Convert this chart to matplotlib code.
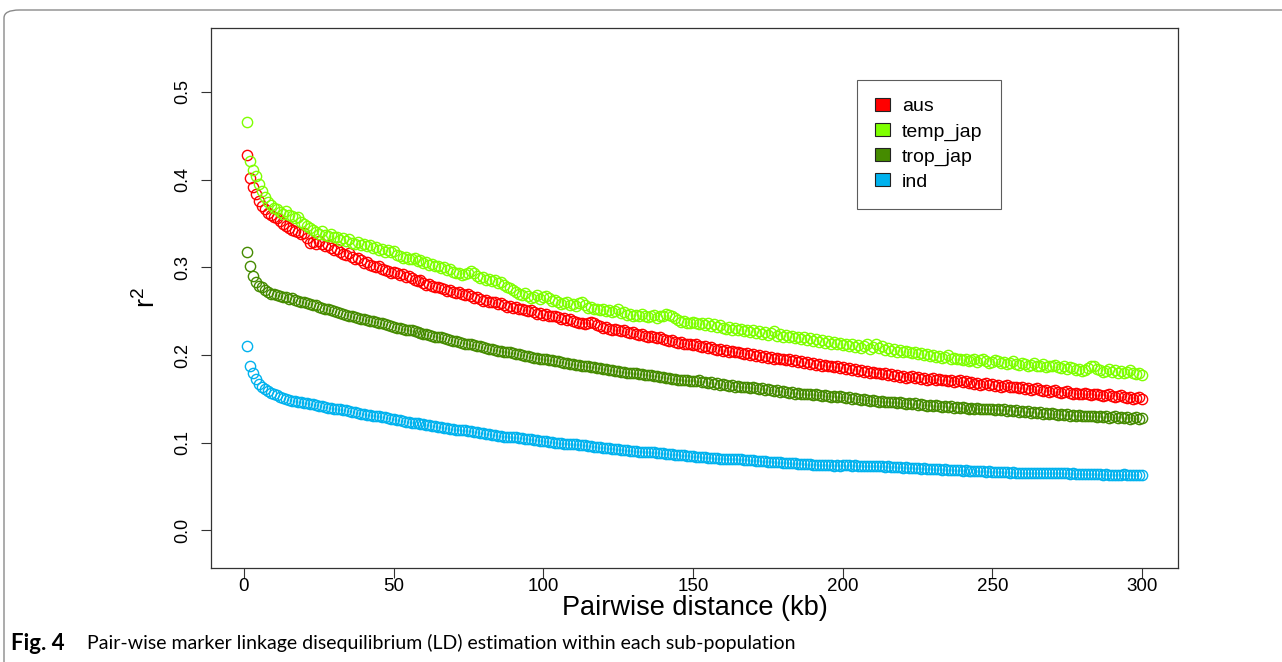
"""Pair-wise marker LD decay within each rice sub-population."""

import matplotlib.pyplot as plt
from matplotlib.patches import FancyBboxPatch, Patch

distance_kb = list(range(1, 301))

aus = [
    0.428, 0.402, 0.392, 0.383, 0.376, 0.370, 0.366, 0.362, 0.360, 0.357,
    0.356, 0.353, 0.349, 0.347, 0.345, 0.343, 0.341, 0.340, 0.338, 0.339,
    0.333, 0.328, 0.329, 0.327, 0.330, 0.326, 0.324, 0.325, 0.322, 0.320,
    0.321, 0.317, 0.315, 0.314, 0.316, 0.312, 0.310, 0.311, 0.308, 0.305,
    0.306, 0.303, 0.302, 0.300, 0.301, 0.298, 0.297, 0.296, 0.294, 0.295,
    0.293, 0.291, 0.292, 0.289, 0.290, 0.288, 0.286, 0.284, 0.285, 0.282,
    0.280, 0.281, 0.279, 0.277, 0.278, 0.276, 0.275, 0.273, 0.274, 0.272,
    0.271, 0.272, 0.270, 0.268, 0.269, 0.267, 0.265, 0.266, 0.264, 0.262,
    0.263, 0.261, 0.260, 0.261, 0.258, 0.259, 0.257, 0.255, 0.256, 0.254,
    0.255, 0.252, 0.253, 0.251, 0.250, 0.251, 0.249, 0.247, 0.248, 0.246,
    0.247, 0.245, 0.244, 0.245, 0.243, 0.241, 0.242, 0.240, 0.241, 0.239,
    0.238, 0.236, 0.237, 0.235, 0.237, 0.238, 0.236, 0.234, 0.233, 0.231,
    0.232, 0.230, 0.229, 0.230, 0.228, 0.227, 0.228, 0.226, 0.225, 0.226,
    0.224, 0.223, 0.224, 0.222, 0.221, 0.222, 0.220, 0.219, 0.220, 0.218,
    0.217, 0.216, 0.217, 0.215, 0.214, 0.215, 0.213, 0.212, 0.213, 0.211,
    0.212, 0.210, 0.209, 0.210, 0.208, 0.209, 0.207, 0.206, 0.207, 0.205,
    0.206, 0.204, 0.205, 0.203, 0.204, 0.202, 0.201, 0.202, 0.200, 0.201,
    0.199, 0.200, 0.198, 0.199, 0.197, 0.198, 0.196, 0.197, 0.195, 0.196,
    0.194, 0.195, 0.193, 0.194, 0.192, 0.193, 0.191, 0.192, 0.190, 0.191,
    0.189, 0.190, 0.188, 0.189, 0.187, 0.188, 0.186, 0.187, 0.185, 0.186,
    0.184, 0.185, 0.183, 0.184, 0.182, 0.183, 0.181, 0.182, 0.180, 0.181,
    0.179, 0.180, 0.178, 0.179, 0.177, 0.178, 0.176, 0.177, 0.175, 0.176,
    0.174, 0.175, 0.176, 0.174, 0.175, 0.173, 0.174, 0.172, 0.173, 0.174,
    0.172, 0.173, 0.171, 0.172, 0.170, 0.171, 0.169, 0.170, 0.171, 0.169,
    0.170, 0.168, 0.169, 0.167, 0.168, 0.166, 0.167, 0.168, 0.166, 0.167,
    0.165, 0.166, 0.164, 0.165, 0.166, 0.164, 0.163, 0.164, 0.162, 0.163,
    0.161, 0.162, 0.160, 0.161, 0.162, 0.160, 0.159, 0.160, 0.158, 0.159,
    0.160, 0.158, 0.157, 0.158, 0.159, 0.157, 0.156, 0.157, 0.155, 0.156,
    0.157, 0.155, 0.154, 0.155, 0.156, 0.154, 0.153, 0.154, 0.155, 0.153,
    0.152, 0.153, 0.154, 0.152, 0.151, 0.152, 0.150, 0.151, 0.152, 0.150,
]

temp_jap = [
    0.466, 0.421, 0.411, 0.404, 0.395, 0.387, 0.380, 0.374, 0.371, 0.368,
    0.366, 0.363, 0.361, 0.364, 0.360, 0.358, 0.356, 0.357, 0.352, 0.349,
    0.347, 0.345, 0.342, 0.340, 0.338, 0.341, 0.337, 0.336, 0.338, 0.335,
    0.334, 0.331, 0.333, 0.330, 0.332, 0.328, 0.326, 0.329, 0.325, 0.327,
    0.324, 0.325, 0.322, 0.323, 0.320, 0.321, 0.318, 0.320, 0.317, 0.319,
    0.314, 0.313, 0.311, 0.312, 0.309, 0.310, 0.311, 0.307, 0.308, 0.305,
    0.306, 0.303, 0.304, 0.301, 0.302, 0.299, 0.300, 0.297, 0.298, 0.295,
    0.293, 0.294, 0.291, 0.292, 0.294, 0.296, 0.293, 0.290, 0.288, 0.289,
    0.286, 0.287, 0.284, 0.285, 0.282, 0.283, 0.280, 0.278, 0.276, 0.274,
    0.272, 0.270, 0.268, 0.271, 0.267, 0.265, 0.266, 0.268, 0.264, 0.266,
    0.267, 0.265, 0.262, 0.263, 0.260, 0.258, 0.259, 0.261, 0.257, 0.258,
    0.256, 0.259, 0.260, 0.257, 0.254, 0.255, 0.252, 0.253, 0.251, 0.252,
    0.250, 0.251, 0.249, 0.250, 0.252, 0.248, 0.249, 0.246, 0.247, 0.245,
    0.246, 0.244, 0.247, 0.245, 0.243, 0.244, 0.246, 0.242, 0.244, 0.245,
    0.247, 0.246, 0.244, 0.242, 0.240, 0.238, 0.239, 0.237, 0.236, 0.238,
    0.236, 0.235, 0.237, 0.234, 0.236, 0.233, 0.235, 0.232, 0.234, 0.231,
    0.230, 0.232, 0.229, 0.231, 0.228, 0.230, 0.227, 0.229, 0.226, 0.228,
    0.225, 0.227, 0.224, 0.226, 0.223, 0.225, 0.227, 0.222, 0.224, 0.221,
    0.223, 0.220, 0.222, 0.219, 0.221, 0.218, 0.220, 0.217, 0.219, 0.216,
    0.218, 0.215, 0.217, 0.214, 0.216, 0.213, 0.215, 0.212, 0.214, 0.211,
    0.213, 0.210, 0.212, 0.209, 0.211, 0.208, 0.210, 0.212, 0.207, 0.209,
    0.213, 0.208, 0.210, 0.206, 0.208, 0.205, 0.207, 0.204, 0.206, 0.203,
    0.205, 0.204, 0.202, 0.203, 0.201, 0.202, 0.200, 0.201, 0.199, 0.200,
    0.198, 0.199, 0.197, 0.198, 0.200, 0.196, 0.197, 0.195, 0.196, 0.194,
    0.195, 0.193, 0.194, 0.196, 0.192, 0.194, 0.195, 0.193, 0.191, 0.192,
    0.194, 0.193, 0.191, 0.192, 0.190, 0.191, 0.193, 0.190, 0.189, 0.191,
    0.190, 0.188, 0.189, 0.191, 0.187, 0.188, 0.190, 0.186, 0.188, 0.187,
    0.189, 0.186, 0.185, 0.187, 0.184, 0.186, 0.185, 0.183, 0.184, 0.182,
    0.183, 0.185, 0.188, 0.187, 0.184, 0.183, 0.181, 0.182, 0.184, 0.181,
    0.183, 0.180, 0.182, 0.179, 0.181, 0.183, 0.180, 0.178, 0.179, 0.177,
]

trop_jap = [
    0.318, 0.301, 0.290, 0.283, 0.279, 0.277, 0.274, 0.272, 0.270, 0.269,
    0.268, 0.267, 0.266, 0.266, 0.264, 0.265, 0.263, 0.262, 0.261, 0.260,
    0.259, 0.258, 0.257, 0.257, 0.255, 0.254, 0.253, 0.252, 0.251, 0.250,
    0.249, 0.248, 0.247, 0.246, 0.245, 0.244, 0.243, 0.242, 0.241, 0.241,
    0.240, 0.239, 0.239, 0.238, 0.237, 0.236, 0.235, 0.234, 0.233, 0.232,
    0.231, 0.231, 0.230, 0.229, 0.228, 0.228, 0.227, 0.226, 0.225, 0.224,
    0.224, 0.223, 0.222, 0.221, 0.220, 0.220, 0.219, 0.218, 0.217, 0.216,
    0.216, 0.215, 0.214, 0.213, 0.213, 0.212, 0.211, 0.210, 0.210, 0.209,
    0.208, 0.207, 0.207, 0.206, 0.205, 0.205, 0.204, 0.203, 0.203, 0.202,
    0.201, 0.201, 0.200, 0.199, 0.199, 0.198, 0.197, 0.197, 0.196, 0.196,
    0.195, 0.194, 0.194, 0.193, 0.193, 0.192, 0.191, 0.191, 0.190, 0.190,
    0.189, 0.189, 0.188, 0.187, 0.187, 0.186, 0.186, 0.185, 0.185, 0.184,
    0.184, 0.183, 0.183, 0.182, 0.182, 0.181, 0.181, 0.180, 0.180, 0.179,
    0.179, 0.178, 0.178, 0.177, 0.177, 0.177, 0.176, 0.176, 0.175, 0.175,
    0.174, 0.174, 0.173, 0.173, 0.172, 0.172, 0.171, 0.171, 0.170, 0.170,
    0.170, 0.171, 0.169, 0.169, 0.168, 0.169, 0.167, 0.168, 0.166, 0.167,
    0.166, 0.165, 0.166, 0.164, 0.165, 0.163, 0.164, 0.163, 0.162, 0.163,
    0.162, 0.161, 0.162, 0.160, 0.161, 0.160, 0.159, 0.160, 0.158, 0.159,
    0.158, 0.157, 0.158, 0.156, 0.157, 0.156, 0.155, 0.156, 0.155, 0.154,
    0.155, 0.154, 0.153, 0.154, 0.153, 0.152, 0.153, 0.152, 0.153, 0.152,
    0.151, 0.152, 0.150, 0.151, 0.150, 0.149, 0.150, 0.149, 0.148, 0.149,
    0.148, 0.147, 0.148, 0.147, 0.146, 0.147, 0.146, 0.145, 0.146, 0.145,
    0.144, 0.145, 0.144, 0.145, 0.143, 0.144, 0.143, 0.142, 0.143, 0.142,
    0.143, 0.142, 0.141, 0.142, 0.141, 0.142, 0.140, 0.141, 0.140, 0.141,
    0.140, 0.139, 0.140, 0.139, 0.140, 0.138, 0.139, 0.138, 0.139, 0.138,
    0.137, 0.138, 0.137, 0.138, 0.136, 0.137, 0.136, 0.137, 0.135, 0.136,
    0.135, 0.136, 0.134, 0.135, 0.134, 0.135, 0.133, 0.134, 0.133, 0.134,
    0.133, 0.132, 0.133, 0.132, 0.133, 0.131, 0.132, 0.131, 0.132, 0.130,
    0.131, 0.130, 0.131, 0.130, 0.129, 0.130, 0.129, 0.130, 0.128, 0.129,
    0.130, 0.128, 0.129, 0.128, 0.129, 0.127, 0.128, 0.129, 0.127, 0.128,
]

ind = [
    0.210, 0.188, 0.179, 0.173, 0.167, 0.164, 0.161, 0.159, 0.157, 0.156,
    0.154, 0.152, 0.151, 0.150, 0.149, 0.148, 0.148, 0.147, 0.146, 0.145,
    0.145, 0.144, 0.144, 0.143, 0.142, 0.142, 0.141, 0.140, 0.140, 0.139,
    0.138, 0.138, 0.137, 0.137, 0.136, 0.135, 0.135, 0.134, 0.133, 0.133,
    0.132, 0.132, 0.131, 0.130, 0.130, 0.129, 0.129, 0.128, 0.127, 0.127,
    0.126, 0.126, 0.125, 0.124, 0.124, 0.123, 0.123, 0.122, 0.121, 0.121,
    0.120, 0.120, 0.119, 0.119, 0.118, 0.118, 0.117, 0.117, 0.116, 0.116,
    0.115, 0.115, 0.114, 0.114, 0.113, 0.113, 0.112, 0.112, 0.111, 0.111,
    0.110, 0.110, 0.109, 0.109, 0.108, 0.108, 0.107, 0.107, 0.107, 0.106,
    0.106, 0.105, 0.105, 0.104, 0.104, 0.104, 0.103, 0.103, 0.102, 0.102,
    0.102, 0.101, 0.101, 0.100, 0.100, 0.100, 0.099, 0.099, 0.098, 0.098,
    0.098, 0.097, 0.097, 0.097, 0.096, 0.096, 0.095, 0.095, 0.095, 0.094,
    0.094, 0.094, 0.093, 0.093, 0.093, 0.092, 0.092, 0.092, 0.091, 0.091,
    0.091, 0.090, 0.090, 0.090, 0.089, 0.089, 0.089, 0.088, 0.088, 0.088,
    0.087, 0.087, 0.087, 0.086, 0.086, 0.086, 0.086, 0.085, 0.085, 0.085,
    0.084, 0.084, 0.084, 0.084, 0.083, 0.083, 0.083, 0.083, 0.082, 0.082,
    0.082, 0.082, 0.081, 0.081, 0.081, 0.081, 0.080, 0.080, 0.080, 0.080,
    0.079, 0.079, 0.079, 0.079, 0.078, 0.078, 0.078, 0.078, 0.078, 0.077,
    0.077, 0.077, 0.077, 0.077, 0.076, 0.076, 0.076, 0.076, 0.076, 0.075,
    0.075, 0.075, 0.075, 0.075, 0.075, 0.075, 0.074, 0.075, 0.074, 0.075,
    0.075, 0.075, 0.074, 0.075, 0.074, 0.074, 0.074, 0.073, 0.074, 0.073,
    0.073, 0.073, 0.073, 0.072, 0.073, 0.072, 0.072, 0.072, 0.072, 0.071,
    0.072, 0.071, 0.071, 0.071, 0.071, 0.070, 0.071, 0.070, 0.070, 0.070,
    0.070, 0.070, 0.069, 0.070, 0.069, 0.069, 0.069, 0.069, 0.069, 0.068,
    0.069, 0.068, 0.068, 0.068, 0.068, 0.068, 0.068, 0.067, 0.068, 0.067,
    0.067, 0.067, 0.067, 0.067, 0.067, 0.066, 0.067, 0.066, 0.066, 0.066,
    0.066, 0.066, 0.066, 0.066, 0.065, 0.066, 0.065, 0.065, 0.065, 0.065,
    0.065, 0.065, 0.065, 0.065, 0.065, 0.064, 0.065, 0.064, 0.064, 0.064,
    0.064, 0.064, 0.064, 0.064, 0.064, 0.064, 0.063, 0.064, 0.063, 0.063,
    0.063, 0.063, 0.063, 0.064, 0.063, 0.063, 0.063, 0.063, 0.063, 0.063,
]

series_names = ["aus", "temp_jap", "trop_jap", "ind"]
series_values = [aus, temp_jap, trop_jap, ind]
series_colors = ["#FF0000", "#7FFF00", "#458B00", "#00B2EE"]
x_ticks = [0, 50, 100, 150, 200, 250, 300]
y_ticks = [0.0, 0.1, 0.2, 0.3, 0.4, 0.5]
caption_label = "Fig. 4"
caption_text = (
    "Pair-wise marker linkage disequilibrium (LD) estimation "
    "within each sub-population"
)

plt.rcParams["font.family"] = ["Liberation Sans", "DejaVu Sans"]
plt.rcParams["mathtext.default"] = "regular"

W, H = 1282, 662
figure = plt.figure(figsize=(W / 100, H / 100), dpi=100)

# the journal frame around the figure (rounded top-left corner)
frame = FancyBboxPatch(
    (4 / W, -0.2),
    1.2,
    1.2 - 10 / H,
    boxstyle="round,pad=0,rounding_size=0.012",
    transform=figure.transFigure,
    facecolor="none",
    edgecolor="#8a8a8a",
    linewidth=1.0,
)
figure.patches.append(frame)

axis = figure.add_axes([211 / W, 1 - 568 / H, 967 / W, 540 / H])

for name, values, color in zip(series_names, series_values, series_colors):
    axis.plot(
        distance_kb,
        values,
        linestyle="none",
        marker="o",
        markersize=7.4,
        markerfacecolor="none",
        markeredgecolor=color,
        markeredgewidth=1.0,
        label=name,
    )

axis.set_xlim(-10.96, 311.96)
axis.set_ylim(-0.0428, 0.5728)
axis.set_xticks(x_ticks)
axis.set_yticks(y_ticks)
axis.set_xticklabels([str(t) for t in x_ticks])
axis.set_yticklabels([f"{t:.1f}" for t in y_ticks])
axis.tick_params(
    axis="both",
    direction="out",
    length=7,
    width=0.8,
    color="#333333",
)
axis.tick_params(axis="x", pad=0, labelsize=13.5)
axis.tick_params(axis="y", pad=7, labelsize=13, labelrotation=90)
for label in axis.get_yticklabels():
    label.set_va("center")
for spine in axis.spines.values():
    spine.set_linewidth(0.9)
    spine.set_color("#333333")

axis.set_xlabel("Pairwise distance (kb)", fontsize=19.5, labelpad=0)
axis.set_ylabel("r$^2$", fontsize=19.5, labelpad=10)

handles = [
    Patch(facecolor=c, edgecolor="#222222", linewidth=0.8)
    for c in series_colors
]
axis.legend(
    handles,
    series_names,
    loc="upper left",
    bbox_to_anchor=(0.668, 0.904),
    fontsize=14,
    frameon=True,
    fancybox=False,
    edgecolor="#333333",
    handlelength=0.75,
    handleheight=0.62,
    handletextpad=0.6,
    labelspacing=0.4,
    borderpad=0.95,
    borderaxespad=0,
).get_frame().set_linewidth(0.8)

figure.text(
    11 / W,
    1 - 643 / H,
    caption_label,
    fontsize=16,
    fontweight="bold",
    family=["Lato", "DejaVu Sans"],
    va="center",
    ha="left",
)
figure.text(
    87 / W,
    1 - 643 / H,
    caption_text,
    fontsize=14,
    family=["Lato", "DejaVu Sans"],
    va="center",
    ha="left",
)

figure.savefig("out.png", dpi=100)
plt.close(figure)
